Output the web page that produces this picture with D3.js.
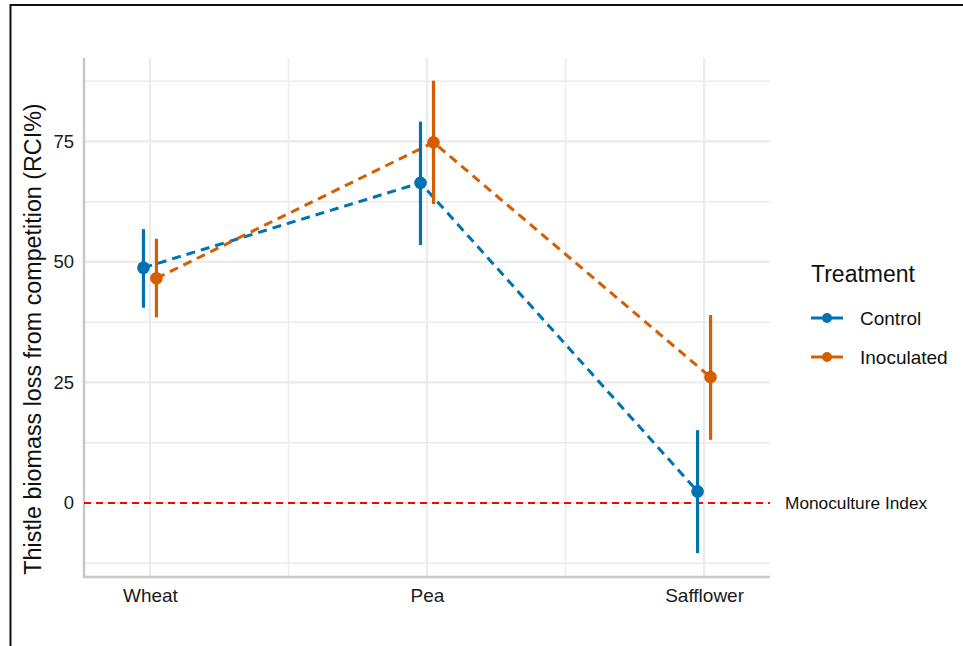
<!DOCTYPE html>
<html lang="en"><head>
<meta charset="UTF-8">
<title>Thistle RCI</title>
<script src="https://cdn.jsdelivr.net/npm/d3@7/dist/d3.min.js"></script>
<style>
body { margin: 0; background: #fff; }
text { font-family: "Liberation Sans", Arial, sans-serif; }
</style>
</head>
<body>
<script>

var width = 963;
var height = 646;

// data
var crops = ["Wheat", "Pea", "Safflower"];
var treatments = ["Control", "Inoculated"];
var colors = ["#0072B2", "#D55E00"];
var controlMean = [48.8, 66.4, 2.4];
var controlLow = [40.5, 53.5, -10.4];
var controlHigh = [56.8, 79.1, 15.1];
var inocMean = [46.6, 74.8, 26.1];
var inocLow = [38.5, 62.0, 13.1];
var inocHigh = [54.8, 87.6, 39.0];
var yTicks = [0, 25, 50, 75];
var yMinor = [-12.5, 12.5, 37.5, 62.5, 87.5];

var series = [
  {name: treatments[0], color: colors[0], dodge: -6.5, mean: controlMean, lo: controlLow, hi: controlHigh},
  {name: treatments[1], color: colors[1], dodge: 6.5, mean: inocMean, lo: inocLow, hi: inocHigh}
];

// panel edges ("top" is taken by window.top)
var panelL = 84, panelR = 770, panelT = 58, panelB = 577;

var svg = d3.select("body").append("svg")
  .attr("width", width)
  .attr("height", height);

// outer frame (only top and left show in the crop)
svg.append("rect")
  .attr("x", 10.5).attr("y", 5)
  .attr("width", 1000).attr("height", 700)
  .attr("fill", "none")
  .attr("stroke", "#111")
  .attr("stroke-width", 2);

var x = d3.scalePoint().domain(crops).range([panelL, panelR]).padding(0.238);
var y = d3.scaleLinear().domain([-15.35, 92.3]).range([panelB, panelT]);

// grid
var grid = svg.append("g");
grid.selectAll(".minorY").data(yMinor).enter().append("line")
  .attr("x1", panelL).attr("x2", panelR)
  .attr("y1", d => y(d)).attr("y2", d => y(d))
  .attr("stroke", "#ebebeb").attr("stroke-width", 1.5);
var mids = [x(crops[0]) + x.step() / 2, x(crops[1]) + x.step() / 2];
grid.selectAll(".minorX").data(mids).enter().append("line")
  .attr("x1", d => d).attr("x2", d => d)
  .attr("y1", panelT).attr("y2", panelB)
  .attr("stroke", "#ebebeb").attr("stroke-width", 1.5);
grid.selectAll(".majorY").data(yTicks).enter().append("line")
  .attr("x1", panelL).attr("x2", panelR)
  .attr("y1", d => y(d)).attr("y2", d => y(d))
  .attr("stroke", "#ebebeb").attr("stroke-width", 2.2);
grid.selectAll(".majorX").data(crops).enter().append("line")
  .attr("x1", d => x(d)).attr("x2", d => x(d))
  .attr("y1", panelT).attr("y2", panelB)
  .attr("stroke", "#ebebeb").attr("stroke-width", 2.2);

// axis lines
svg.append("line")
  .attr("x1", panelL).attr("x2", panelL).attr("y1", panelT).attr("y2", panelB + 1)
  .attr("stroke", "#c8c8c8").attr("stroke-width", 2.5);
svg.append("line")
  .attr("x1", panelL - 1).attr("x2", panelR).attr("y1", panelB).attr("y2", panelB)
  .attr("stroke", "#c8c8c8").attr("stroke-width", 2.5);

// tick labels via d3 axes
var yAxis = svg.append("g")
  .attr("transform", `translate(${panelL},0)`)
  .call(d3.axisLeft(y).tickValues(yTicks).tickSize(0).tickPadding(10));
yAxis.select(".domain").remove();
yAxis.selectAll("text").attr("font-size", 18.5).attr("fill", "#1a1a1a")
  .style("font-family", "'Liberation Sans', Arial, sans-serif");

var xAxis = svg.append("g")
  .attr("transform", `translate(0,${panelB})`)
  .call(d3.axisBottom(x).tickSize(0).tickPadding(12));
xAxis.select(".domain").remove();
xAxis.selectAll("text").attr("font-size", 19).attr("fill", "#1a1a1a")
  .style("font-family", "'Liberation Sans', Arial, sans-serif");

// monoculture reference line
svg.append("line")
  .attr("x1", panelL).attr("x2", panelR)
  .attr("y1", y(0)).attr("y2", y(0))
  .attr("stroke", "#ff0000").attr("stroke-width", 1.8)
  .attr("stroke-dasharray", "7,5");
svg.append("text")
  .attr("x", 785).attr("y", y(0) + 6)
  .attr("font-size", 17.3)
  .attr("fill", "#111")
  .text("Monoculture Index");

// dashed connecting lines
var line = d3.line()
  .x((d, i) => x(crops[i]) + d.dodge)
  .y(d => y(d.v));

series.forEach(function(s) {
  var pts = s.mean.map(v => ({v: v, dodge: s.dodge}));
  svg.append("path")
    .datum(pts)
    .attr("d", line)
    .attr("fill", "none")
    .attr("stroke", s.color)
    .attr("stroke-width", 3)
    .attr("stroke-dasharray", "9,6");
});

// point ranges
series.forEach(function(s) {
  var g = svg.append("g");
  g.selectAll("line").data(crops).enter().append("line")
    .attr("x1", d => x(d) + s.dodge).attr("x2", d => x(d) + s.dodge)
    .attr("y1", (d, i) => y(s.lo[i])).attr("y2", (d, i) => y(s.hi[i]))
    .attr("stroke", s.color).attr("stroke-width", 3.2);
  g.selectAll("circle").data(crops).enter().append("circle")
    .attr("cx", d => x(d) + s.dodge)
    .attr("cy", (d, i) => y(s.mean[i]))
    .attr("r", 6.3)
    .attr("fill", s.color);
});

// y title
svg.append("text")
  .attr("transform", `translate(41,339) rotate(-90)`)
  .attr("text-anchor", "middle")
  .attr("font-size", 23.3)
  .attr("fill", "#111")
  .text("Thistle biomass loss from competition (RCI%)");

// legend
var legend = svg.append("g");
legend.append("text")
  .attr("x", 811).attr("y", 282)
  .attr("font-size", 23)
  .attr("fill", "#111")
  .text("Treatment");
var items = legend.selectAll(".item").data(series).enter().append("g")
  .attr("transform", (d, i) => `translate(0,${318 + i * 39})`);
items.append("line")
  .attr("x1", 811).attr("x2", 843)
  .attr("stroke", d => d.color).attr("stroke-width", 3);
items.append("circle")
  .attr("cx", 827).attr("r", 5)
  .attr("fill", d => d.color);
items.append("text")
  .attr("x", 860).attr("y", 7)
  .attr("font-size", 19)
  .attr("fill", "#111")
  .text(d => d.name);

</script>
</body></html>
